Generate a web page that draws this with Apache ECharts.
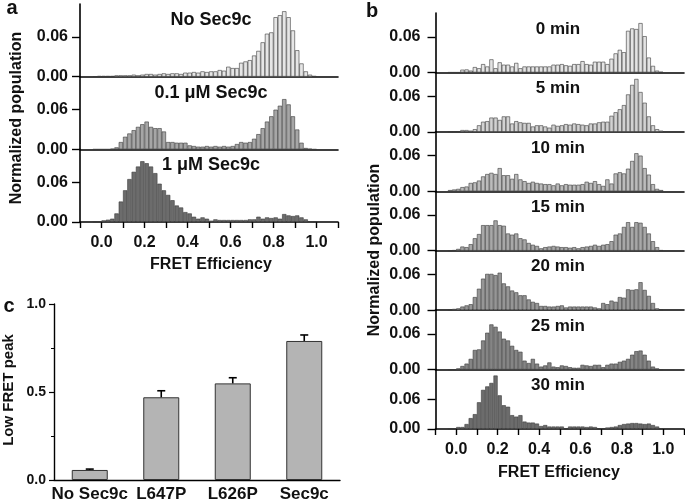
<!DOCTYPE html>
<html><head><meta charset="utf-8">
<script src="https://cdn.jsdelivr.net/npm/echarts@6/dist/echarts.min.js"></script>
<style>html,body{margin:0;padding:0;background:#fff}#c{width:685px;height:503px}</style>
</head><body><div id="c"></div><script>
// ---------- DATA ----------
// histogram bins: width 0.02, first bin starts at -0.04 (52 bins, up to 1.00)
const binStart = -0.04;
const binWidth = 0.02;
const xTickLabels = ['0.0','0.2','0.4','0.6','0.8','1.0'];
const yTickLabels = ['0.00','0.06'];

const panelATitles = ['No Sec9c', '0.1 \u03bcM Sec9c', '1 \u03bcM Sec9c'];
const aNoSec9c = [0.0005,0.001,
  0.001,0.001,0.001,0.002,0.002,0.002,0.002,0.003,0.002,0.003,
  0.004,0.004,0.003,0.004,0.005,0.004,0.005,0.005,0.004,0.006,
  0.006,0.007,0.006,0.008,0.007,0.008,0.008,0.010,0.009,0.015,
  0.013,0.013,0.021,0.023,0.025,0.032,0.039,0.052,0.065,0.067,
  0.090,0.093,0.099,0.090,0.070,0.040,0.020,0.008,0.003,0.001];
const a01uM = [0,0,
  0,0,0.001,0.003,0.011,0.019,0.024,0.029,0.034,0.038,
  0.042,0.034,0.032,0.032,0.027,0.011,0.011,0.010,0.010,0.010,
  0.006,0.005,0.004,0.004,0.005,0.004,0.005,0.004,0.005,0.004,
  0.005,0.008,0.011,0.010,0.011,0.016,0.023,0.032,0.042,0.050,
  0.060,0.066,0.076,0.068,0.050,0.030,0.010,0.002,0.001,0];
const a1uM = [0,0,
  0.0025,0.0035,0.005,0.013,0.031,0.048,0.065,0.076,0.084,0.092,
  0.089,0.084,0.074,0.058,0.048,0.041,0.033,0.025,0.022,0.015,
  0.013,0.008,0.005,0.007,0.005,0.002,0.004,0.003,0.003,0.003,
  0.003,0.003,0.003,0.003,0.004,0.004,0.008,0.005,0.007,0.006,
  0.007,0.005,0.012,0.010,0.009,0.010,0.007,0.004,0.001,0];

const panelBTitles = ['0 min','5 min','10 min','15 min','20 min','25 min','30 min'];
const b0min = [0,0,
  0,0.0046,0.005,0.003,0.009,0.007,0.014,0.010,0.022,0.007,
  0.017,0.013,0.013,0.010,0.016,0.007,0.010,0.010,0.010,0.010,
  0.010,0.010,0.010,0.013,0.013,0.014,0.012,0.011,0.014,0.014,
  0.019,0.014,0.013,0.018,0.018,0.018,0.014,0.023,0.032,0.038,
  0.034,0.070,0.074,0.073,0.083,0.061,0.025,0.011,0.003,0.001];
const b5min = [0,0,
  0,0.003,0.003,0.002,0.0045,0.011,0.017,0.018,0.024,0.024,
  0.020,0.026,0.026,0.014,0.018,0.016,0.015,0.015,0.009,0.011,
  0.011,0.009,0.007,0.012,0.010,0.011,0.013,0.012,0.014,0.013,
  0.012,0.011,0.014,0.014,0.016,0.017,0.017,0.027,0.033,0.038,
  0.045,0.063,0.079,0.089,0.067,0.049,0.026,0.011,0.0045,0.002];
const b10min = [0.002,0.003,
  0.004,0.007,0.008,0.014,0.015,0.018,0.025,0.029,0.031,0.029,
  0.039,0.027,0.027,0.021,0.029,0.020,0.017,0.014,0.016,0.014,
  0.013,0.012,0.012,0.010,0.013,0.010,0.012,0.011,0.011,0.011,
  0.012,0.016,0.014,0.017,0.012,0.009,0.020,0.013,0.030,0.032,
  0.030,0.038,0.051,0.064,0.060,0.039,0.028,0.012,0.004,0.002];
const b15min = [0,0.001,
  0.003,0.007,0.006,0.011,0.021,0.028,0.043,0.043,0.043,0.051,
  0.043,0.042,0.029,0.027,0.029,0.021,0.019,0.013,0.010,0.008,
  0.004,0.006,0.007,0.008,0.007,0.006,0.006,0.005,0.006,0.004,
  0.006,0.007,0.008,0.010,0.008,0.010,0.011,0.016,0.027,0.029,
  0.040,0.048,0.040,0.048,0.047,0.040,0.029,0.016,0.006,0.001];
const b20min = [0,0.002,
  0.003,0.006,0.008,0.010,0.022,0.036,0.053,0.061,0.061,0.059,
  0.063,0.045,0.040,0.033,0.030,0.025,0.025,0.018,0.014,0.012,
  0.007,0.007,0.006,0.006,0.007,0.008,0.0045,0.006,0.006,0.006,
  0.006,0.006,0.006,0.0045,0.003,0.012,0.010,0.016,0.014,0.022,
  0.021,0.035,0.034,0.035,0.047,0.034,0.024,0.012,0.003,0.001];
const b25min = [0,0,
  0.002,0.006,0.010,0.018,0.033,0.034,0.049,0.062,0.076,0.072,
  0.064,0.052,0.049,0.040,0.033,0.030,0.015,0.011,0.018,0.010,
  0.005,0.007,0.012,0.005,0.004,0.007,0.006,0.004,0.003,0.003,
  0.008,0.007,0.006,0.008,0.008,0.004,0.008,0.010,0.010,0.013,
  0.015,0.018,0.025,0.031,0.032,0.025,0.015,0.005,0.002,0];
const b30min = [0,0,
  0.004,0.004,0.010,0.022,0.030,0.054,0.079,0.086,0.093,0.108,
  0.068,0.048,0.045,0.028,0.025,0.028,0.015,0.013,0.013,0.011,
  0.006,0.008,0.005,0.005,0.005,0.005,0.001,0.005,0.005,0.005,
  0.005,0.004,0.005,0.004,0.001,0.001,0.003,0.004,0.005,0.008,
  0.010,0.011,0.012,0.012,0.011,0.010,0.011,0.008,0.005,0.001];

const cCategories = ['No Sec9c','L647P','L626P','Sec9c'];
const cValues = [0.057, 0.470, 0.549, 0.790];
const cErrors = [0.005, 0.037, 0.032, 0.034];

// ---------- CHART ----------
const FONT = '"Liberation Sans", Arial, Helvetica, sans-serif';
const chart = echarts.init(document.getElementById('c'));
const grids = [], xAxes = [], yAxes = [], series = [], graphics = [];
const nCat = 60; // -0.1 .. 1.1
const catData = Array.from({length: nCat}, (_, k) => (-0.1 + binWidth * (k + 0.5)).toFixed(2));
function padBins(arr) {
  const off = Math.round((binStart + 0.1) / binWidth);
  const out = new Array(nCat).fill(null);
  arr.forEach((v, j) => { out[off + j] = v; });
  return out;
}
const xLabelVals = xTickLabels.map(Number);
const yLabelVals = yTickLabels.map(Number);

function addHist(o) {
  const gi = grids.length;
  grids.push({left: o.left, right: o.right, top: o.top, height: o.height});
  const catIdx = xAxes.length;
  xAxes.push({type: 'category', gridIndex: gi, position: 'top', data: catData, show: false, boundaryGap: true});
  xAxes.push({type: 'value', gridIndex: gi, position: 'bottom', min: -0.1, max: 1.1, interval: 0.1,
    axisLine: {show: true, onZero: false, lineStyle: {color: '#000', width: 1.6}},
    axisTick: {show: o.bottom, length: 6, lineStyle: {color: '#000', width: 1.4}},
    axisLabel: {show: o.bottom, customValues: xLabelVals, formatter: v => v.toFixed(1),
      fontSize: 16, fontWeight: 'bold', color: '#111', fontFamily: FONT, margin: 13},
    splitLine: {show: false}});
  const yi = yAxes.length;
  yAxes.push({type: 'value', gridIndex: gi, min: 0, max: o.ymax,
    axisLine: {show: true, onZero: false, lineStyle: {color: '#000', width: 1.6}},
    axisTick: {show: true, customValues: yLabelVals, length: 8, lineStyle: {color: '#000', width: 1.4}},
    axisLabel: {show: true, customValues: yLabelVals, formatter: v => v.toFixed(2),
      fontSize: 16, fontWeight: 'bold', color: '#111', fontFamily: FONT, margin: o.lm},
    splitLine: {show: false}});
  series.push({type: 'bar', xAxisIndex: catIdx, yAxisIndex: yi, data: padBins(o.data),
    barCategoryGap: '0%', barGap: '0%', animation: false,
    itemStyle: {color: o.color, borderColor: '#3a3a3a', borderWidth: 0.6}});
  graphics.push({type: 'text', x: o.tx, y: o.top + 16,
    style: {text: o.title, font: 'bold ' + o.tfs + 'px ' + FONT, fill: '#111', align: 'center', verticalAlign: 'middle'}});
}

// Panel a
const aData = [aNoSec9c, a01uM, a1uM];
const aColors = ['#e6e6e6', '#a6a6a6', '#6c6c6c'];
const aTop = 4, aH = 72.67;
aData.forEach((d, i) => addHist({left: 80, right: 347, top: aTop + i * aH, height: aH, ymax: 0.11,
  data: d, color: aColors[i], bottom: i === 2, lm: 12, title: panelATitles[i], tx: 211, tfs: 18}));

// Panel b
const bData = [b0min, b5min, b10min, b15min, b20min, b25min, b30min];
const bColors = ['#e4e4e4', '#d2d2d2', '#bcbcbc', '#a8a8a8', '#969696', '#858585', '#6c6c6c'];
const bTop = 13, bH = 59.43;
bData.forEach((d, i) => addHist({left: 435.5, right: 1, top: bTop + i * bH, height: bH, ymax: i === 6 ? 0.12 : 0.1,
  data: d, color: bColors[i], bottom: i === 6, lm: 15, title: panelBTitles[i], tx: 558, tfs: 17}));

// Panel c
const gc = grids.length;
grids.push({left: 54, right: 345, top: 304, height: 176});
const cx = xAxes.length;
xAxes.push({type: 'category', gridIndex: gc, data: cCategories, position: 'bottom',
  axisLine: {show: true, lineStyle: {color: '#000', width: 1.4}}, axisTick: {show: false},
  axisLabel: {fontSize: 17, fontWeight: 'bold', color: '#111', fontFamily: FONT, margin: 6, interval: 0}});
const cy = yAxes.length;
yAxes.push({type: 'value', gridIndex: gc, min: 0, max: 1, interval: 0.5,
  axisLine: {show: true, onZero: false, lineStyle: {color: '#000', width: 1.4}},
  axisTick: {show: true, length: 5, lineStyle: {color: '#000', width: 1.2}},
  minorTick: {show: true, splitNumber: 2, length: 3, lineStyle: {color: '#000', width: 1}},
  axisLabel: {formatter: v => v.toFixed(1), fontSize: 14, fontWeight: 'bold', color: '#111', fontFamily: FONT, margin: 8},
  splitLine: {show: false}});
series.push({type: 'bar', xAxisIndex: cx, yAxisIndex: cy, data: cValues, barWidth: 36, animation: false,
  itemStyle: {color: '#b4b4b4', borderColor: '#333', borderWidth: 1}});
series.push({type: 'custom', xAxisIndex: cx, yAxisIndex: cy, animation: false, z: 5,
  data: cValues.map((v, i) => [i, v, cErrors[i]]),
  renderItem: function (params, api) {
    const p0 = api.coord([api.value(0), api.value(1)]);
    const p1 = api.coord([api.value(0), api.value(1) + api.value(2)]);
    return {type: 'group', children: [
      {type: 'line', shape: {x1: p0[0], y1: p0[1], x2: p1[0], y2: p1[1]}, style: {stroke: '#000', lineWidth: 1.6}},
      {type: 'line', shape: {x1: p1[0] - 4, y1: p1[1], x2: p1[0] + 4, y2: p1[1]}, style: {stroke: '#000', lineWidth: 1.6}}
    ]};
  }});

// Axis titles and panel letters
function txt(t, x, y, size, rot) {
  graphics.push({type: 'text', x: x, y: y, rotation: rot || 0,
    style: {text: t, font: 'bold ' + size + 'px ' + FONT, fill: '#111', align: 'center', verticalAlign: 'middle'}});
}
txt('Normalized population', 17, 118, 16, Math.PI / 2);
txt('Normalized population', 375, 250, 16, Math.PI / 2);
txt('FRET Efficiency', 211, 265, 16);
txt('FRET Efficiency', 559, 473, 16);
txt('Low FRET peak', 9, 390, 15, Math.PI / 2);
txt('a', 12, 8, 20);
txt('b', 372, 11, 20);
txt('c', 9, 306, 20);

chart.setOption({
  animation: false,
  textStyle: {fontFamily: FONT},
  grid: grids, xAxis: xAxes, yAxis: yAxes, series: series, graphic: graphics
});
</script></body></html>
